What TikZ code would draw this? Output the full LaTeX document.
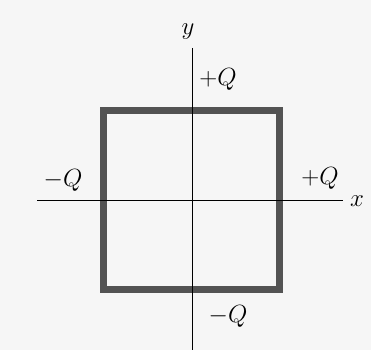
\documentclass[tikz,border=0pt]{standalone}
\usepackage{amsmath}
\usepackage{tikz}

\begin{document}
\begin{tikzpicture}[x=1pt, y=-1pt, font=\fontsize{25}{28}\selectfont]

  \fill[gray!7] (0,0) rectangle (371,350);
  \useasboundingbox (0,0) rectangle (371,350);

  % square loop
  \draw[line width=7pt, gray!65!black] (103.5,110) rectangle (279.5,289.5);

  % axes
  \draw[line width=1pt] (37,200) -- (343,200);
  \draw[line width=1pt] (192,48) -- (192,350);

  \node (ylabel) at (188,32)  {$y$};
  \node (xlabel) at (357,201) {$x$};

  \node (qtop)    at (218,79)  {$+Q$};
  \node (qleft)   at (63,180)  {$-Q$};
  \node (qright)  at (320,178) {$+Q$};
  \node (qbottom) at (228,316) {$-Q$};

\end{tikzpicture}
\end{document}
